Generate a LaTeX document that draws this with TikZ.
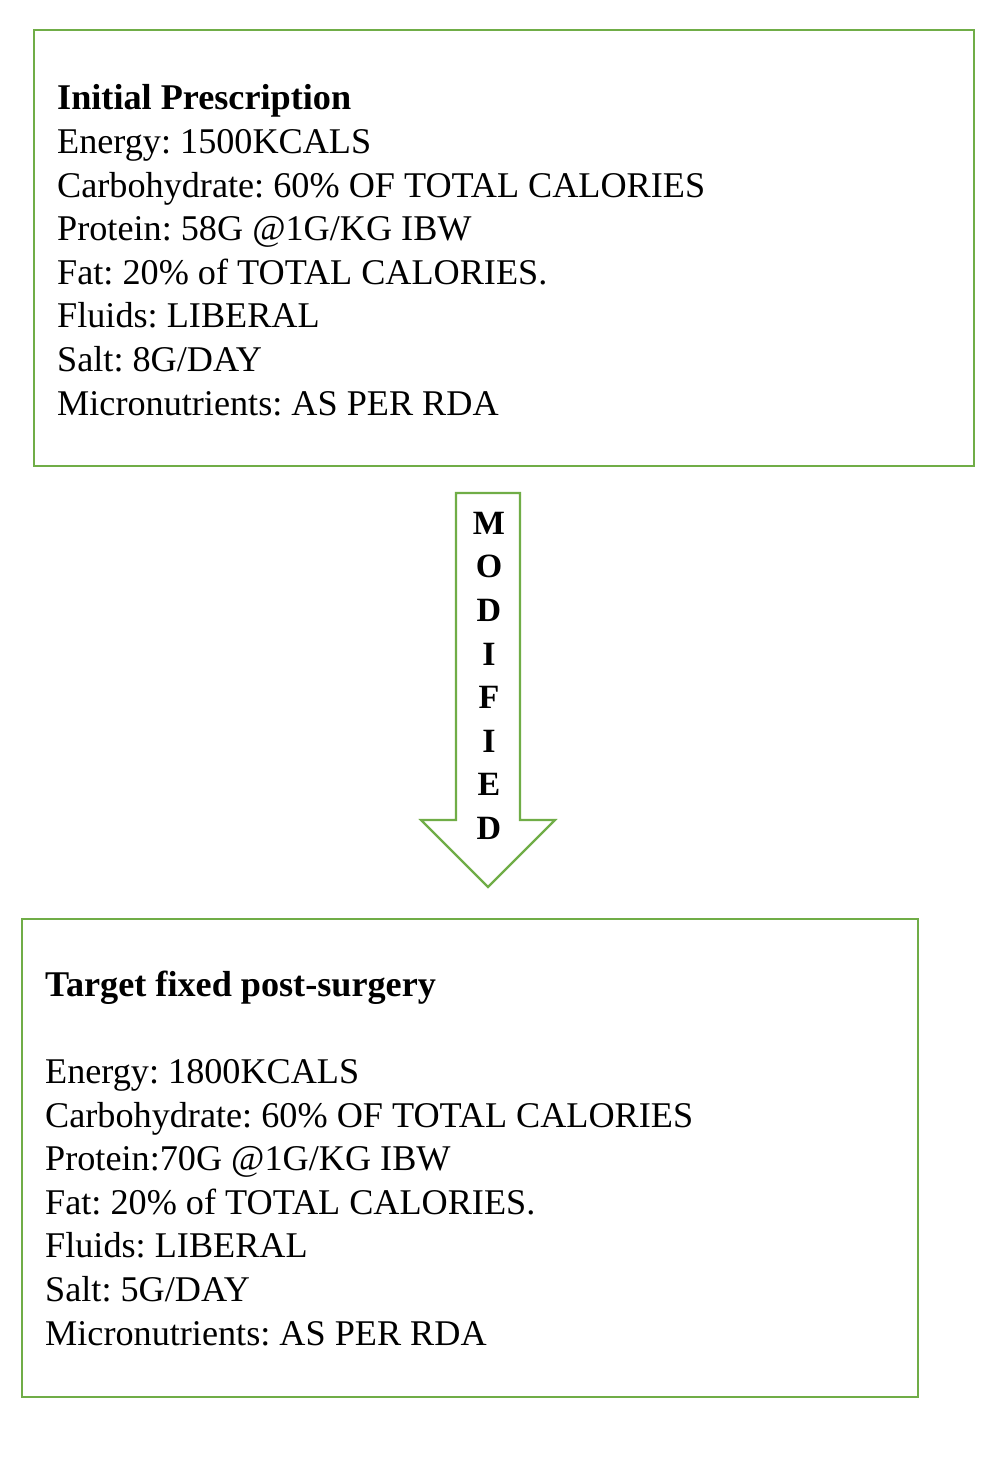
\documentclass[tikz,border=0pt]{standalone}
\usepackage{fontspec}
\setmainfont{Liberation Serif}
\frenchspacing
\definecolor{boxgreen}{HTML}{70AD47}
\begin{document}
\begin{tikzpicture}[x=1pt,y=-1pt,
  frame/.style={draw=boxgreen,line width=2.2pt,fill=white},
  body/.style={anchor=base west,inner sep=0pt,align=left,font=\fontsize{36.2}{43.6}\selectfont\frenchspacing},
  vlabel/.style={anchor=base,inner sep=0pt,align=center,font=\fontsize{34}{43.6}\selectfont\bfseries}]
\useasboundingbox (0,0) rectangle (1000,1461);
\fill[white] (0,0) rectangle (1000,1461);
% top box
\draw[frame] (34,30) rectangle (974,466);
\node[body] (top) at (57,415) {\textbf{Initial Prescription}\\
Energy: 1500KCALS\\
Carbohydrate: 60\% OF TOTAL CALORIES\\
Protein: 58G @1G/KG IBW\\
Fat: 20\% of TOTAL CALORIES.\\
Fluids: LIBERAL\\
Salt: 8G/DAY\\
Micronutrients: AS PER RDA};
% arrow
\draw[frame,line join=miter] (456,493) -- (520,493) -- (520,820) -- (555,820) -- (488,887) -- (421,820) -- (456,820) -- cycle;
\node[vlabel] (mod) at (489,839.5) {M\\O\\D\\I\\F\\I\\E\\D};
% bottom box
\draw[frame] (22,919) rectangle (918,1397);
\node[body] (bottom) at (45,1345) {\textbf{Target fixed post-surgery}\\[0pt]
\\
Energy: 1800KCALS\\
Carbohydrate: 60\% OF TOTAL CALORIES\\
Protein:70G @1G/KG IBW\\
Fat: 20\% of TOTAL CALORIES.\\
Fluids: LIBERAL\\
Salt: 5G/DAY\\
Micronutrients: AS PER RDA};
\end{tikzpicture}
\end{document}
